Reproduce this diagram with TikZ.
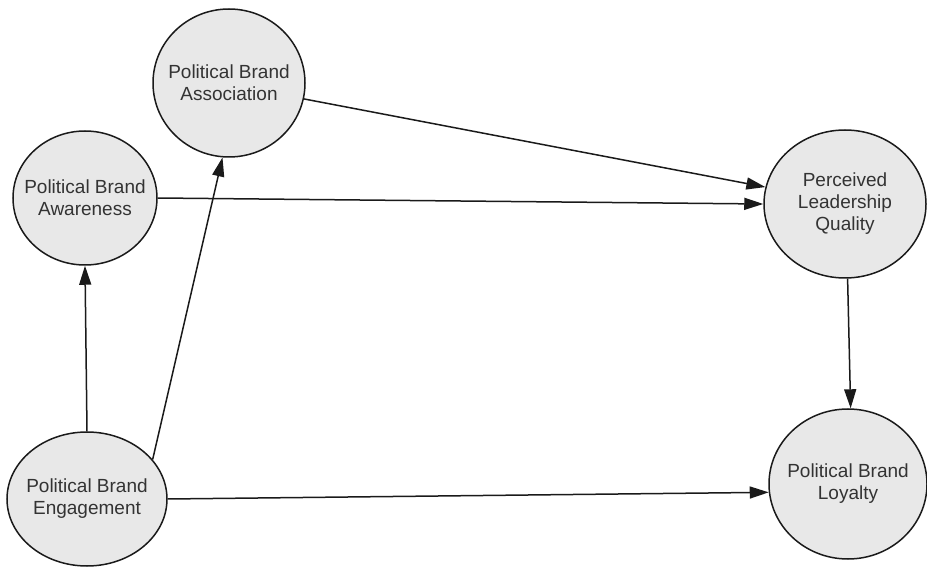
\documentclass[tikz,border=0pt]{standalone}
\usepackage{fontspec}
\setmainfont{Liberation Sans}
\usetikzlibrary{shapes.geometric,arrows.meta}
\definecolor{nodefill}{HTML}{E8E8E8}
\definecolor{txt}{HTML}{333333}
\definecolor{edge}{HTML}{1A1A1A}
\tikzset{
  construct/.style={ellipse, draw=edge, line width=1.5pt, fill=nodefill, inner sep=0pt},
  label text/.style={text=txt, align=center, font=\fontsize{19}{22}\selectfont, inner sep=0pt},
  arr/.style={draw=edge, line width=1.5pt, -{Triangle[length=19pt,width=12pt]}}
}
\begin{document}
\begin{tikzpicture}[x=1pt,y=-1pt]
\useasboundingbox (0,0) rectangle (927,569);
\node[construct, minimum width=152pt, minimum height=148pt] (assoc) at (229,83) {};
\node[construct, minimum width=144pt, minimum height=134pt] (aw) at (85,198) {};
\node[construct, minimum width=162pt, minimum height=148pt] (plq) at (845,204) {};
\node[construct, minimum width=158pt, minimum height=150pt] (loy) at (848,484) {};
\node[construct, minimum width=160pt, minimum height=134pt] (eng) at (87,499) {};
\node[label text] (assoc-t) at (assoc) {Political Brand\\Association};
\node[label text] (aw-t) at (aw) {Political Brand\\Awareness};
\node[label text] (plq-t) at (plq) {Perceived\\Leadership\\Quality};
\node[label text] (loy-t) at (loy) {Political Brand\\Loyalty};
\node[label text] (eng-t) at (eng) {Political Brand\\Engagement};
\draw[arr] (eng.north) -- (aw.south);
\draw[arr] (eng.31) -- (assoc.-95);
\draw[arr] (eng.east) -- (loy.186);
\draw[arr] (aw.east) -- (plq.west);
\draw[arr] (assoc.-12) -- (plq.168);
\draw[arr] (plq.-88) -- (loy.88);
\end{tikzpicture}
\end{document}
